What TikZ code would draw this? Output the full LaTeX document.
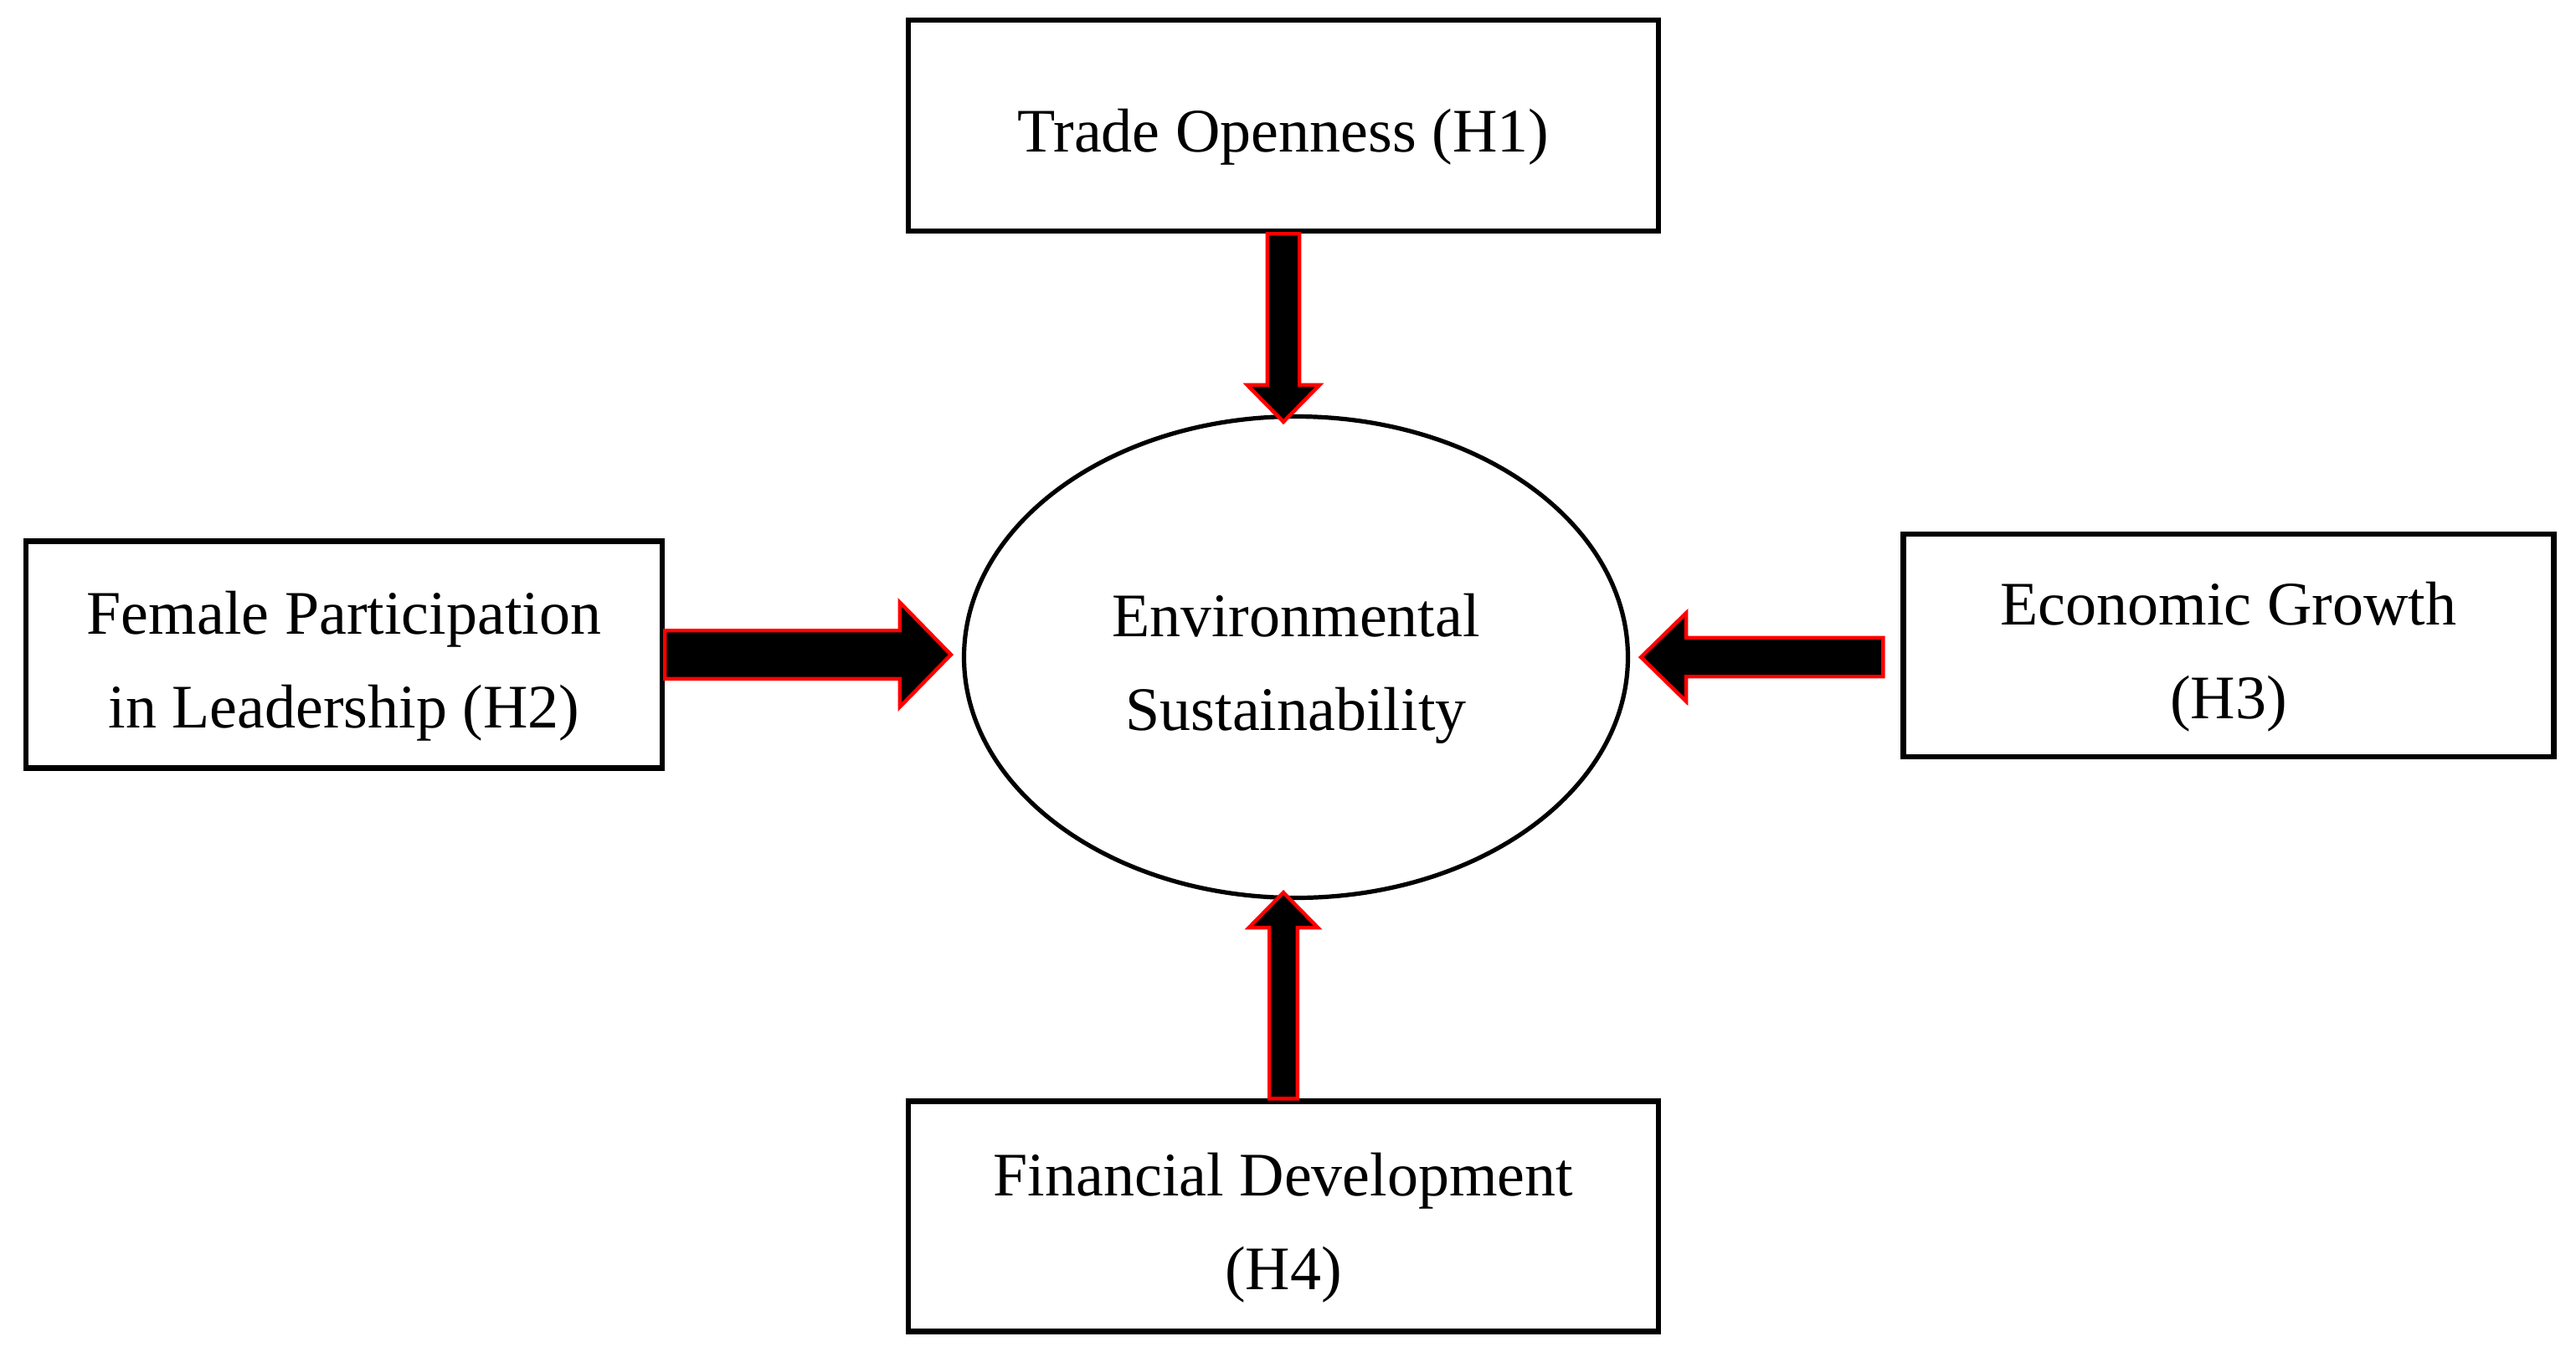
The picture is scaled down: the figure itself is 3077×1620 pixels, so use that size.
\documentclass[tikz,border=0pt]{standalone}
\usepackage{fontspec}
\setmainfont{Liberation Serif}
\usetikzlibrary{calc,shapes.geometric}
\newcommand\fatarrow[5]{%
  \draw[fatarr]
    ($(#1)!#3!90:(#2)$) --
    ($(#2)!#5!(#1)!#3!90:(#2)$) --
    ($(#2)!#5!(#1)!#4!90:(#2)$) --
    (#2) --
    ($(#2)!#5!(#1)!#4!-90:(#2)$) --
    ($(#2)!#5!(#1)!#3!-90:(#2)$) --
    ($(#1)!#3!-90:(#2)$) -- cycle;}
\begin{document}
\begin{tikzpicture}[x=0.25pt,y=-0.25pt,
  txt/.style={font=\fontsize{18.5}{28}\selectfont,align=center,yshift=-3.5pt,inner sep=0pt},
  box/.style={draw=black,line width=1.6pt,rectangle,inner sep=0pt},
  ell/.style={draw=black,line width=1.3pt,ellipse,inner sep=0pt,
    minimum width=198.25pt,minimum height=143.75pt},
  fatarr/.style={fill=black,draw=red,line width=1.1pt,line join=miter}]
\useasboundingbox (0,0) rectangle (3077,1620);
\node[ell,label={[txt]center:Environmental\\Sustainability}] (es) at (1548,785) {};
\node[box,minimum width=224pt,minimum height=63pt,
  label={[txt]center:Trade Openness (H1)}] (top) at (1533,150) {};
\node[box,minimum width=190pt,minimum height=67.75pt,
  label={[txt]center:Female Participation\\in Leadership (H2)}] (lft) at (411,782) {};
\node[box,minimum width=194.25pt,minimum height=66.5pt,
  label={[txt]center:Economic Growth\\(H3)}] (rgt) at (2662,771) {};
\node[box,minimum width=224pt,minimum height=68.75pt,
  label={[txt]center:Financial Development\\(H4)}] (bot) at (1533,1453) {};
\coordinate (s1) at (top.south);
\coordinate (t1) at ($(top.south |- es.north)+(0,9)$);
\coordinate (s2) at (lft.east);
\coordinate (t2) at ($(lft.east -| es.west)+(-13,0)$);
\coordinate (s3) at ($(rgt.west |- es.east)+(-21,0)$);
\coordinate (t3) at ($(es.east)+(13,0)$);
\coordinate (s4) at (bot.north);
\coordinate (t4) at ($(bot.north |- es.south)+(0,-9)$);
\fatarrow{s1}{t1}{4.8pt}{10.8pt}{11pt}
\fatarrow{s2}{t2}{7.2pt}{15.6pt}{15.25pt}
\fatarrow{s3}{t3}{5.8pt}{13.2pt}{13.5pt}
\fatarrow{s4}{t4}{4.2pt}{10.3pt}{10.5pt}
\end{tikzpicture}
\end{document}
